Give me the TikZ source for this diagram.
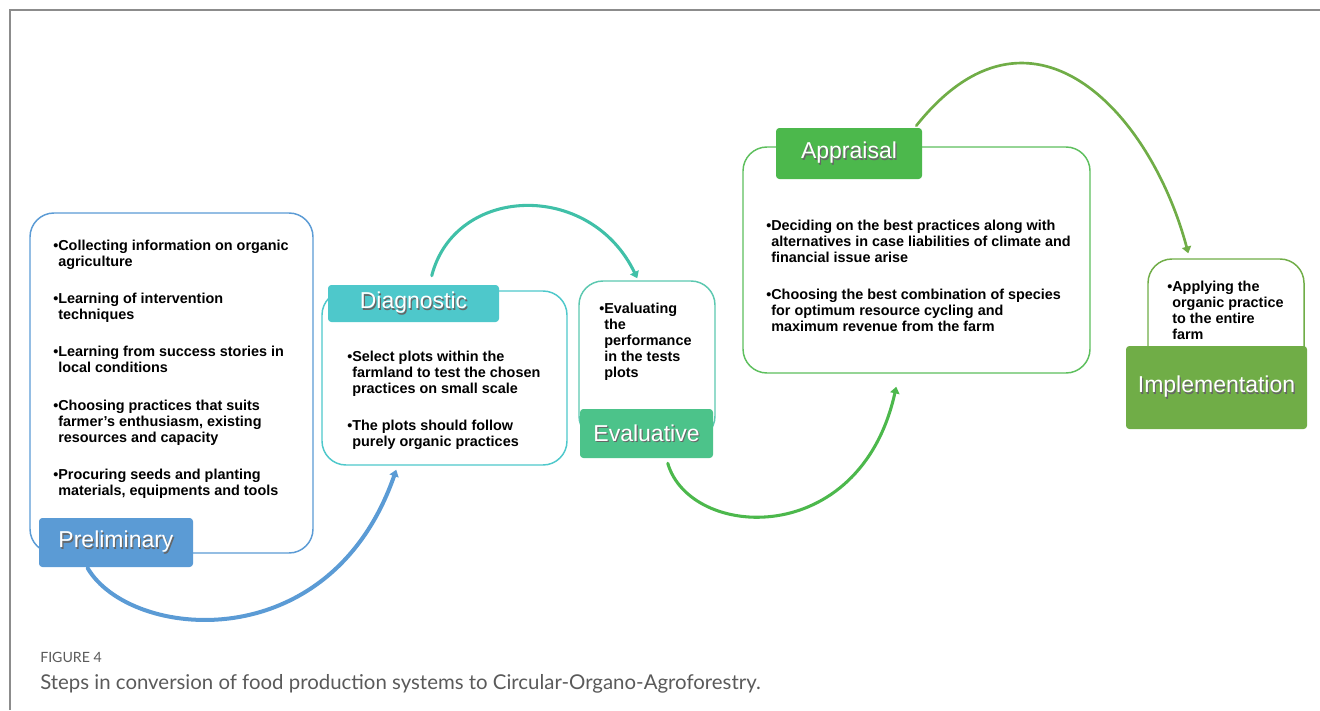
\documentclass[tikz,border=0pt]{standalone}
\usepackage{fontspec}
\setmainfont{Liberation Sans}
\newfontfamily\capfont{Lato}
\usetikzlibrary{arrows.meta,calc}

\definecolor{frameg}{HTML}{8C8C8C}
\definecolor{pblue}{HTML}{5B9BD5}
\definecolor{dteal}{HTML}{4EC8CB}
\definecolor{tealarrow}{HTML}{40C0A8}
\definecolor{eline}{HTML}{5CC8B0}
\definecolor{egreen}{HTML}{4CC38A}
\definecolor{agreen}{HTML}{4CB84C}
\definecolor{aline}{HTML}{5DBF5D}
\definecolor{igreen}{HTML}{70AD47}
\definecolor{capgray}{HTML}{5A5A5A}

% white label text with a soft dark drop shadow
\newcommand\shtext[1]{\makebox[0pt][l]{\hspace{0.9pt}\raisebox{-0.9pt}{\textcolor{black!60}{#1}}}#1}
% indent matching the width of a bullet
\newcommand\ind{\phantom{•}}
% bullet block whose baseline is that of its first line
\newcommand\btext[1]{\begin{tabular}[t]{@{}l@{}}#1\end{tabular}}
% extra space between two bullet points
\newcommand\pgap{16pt}

\begin{document}
\begin{tikzpicture}[x=0.75pt,y=-0.75pt,
  stepbox/.style={draw, line width=1.1pt, rounded corners=18pt, fill=white, inner sep=0},
  steplabel/.style={rounded corners=2.5pt, inner sep=0, text=white,
    font=\fontsize{17.25pt}{20pt}\selectfont},
  bodytext/.style={anchor=base west, inner sep=0,
    font=\bfseries\fontsize{10.8pt}{12pt}\selectfont},
  flow/.style={line cap=round, -{Triangle[length=5pt,width=7pt]}},
  frameline/.style={draw=frameg, line width=1.5pt}
]
\useasboundingbox (0,0) rectangle (1320,710);

% page frame
\coordinate (fbl) at (10,710);
\coordinate (ftl) at (10,10);
\coordinate (ftr) at (1320,10);
\draw[frameline] (fbl) -- (ftl) -- (ftr);

% Preliminary
\node[stepbox, draw=pblue, minimum width=283*0.75pt, minimum height=340*0.75pt] (pbox) at (171.5,383) {};
\node[bodytext] (ptext) at (53,250) {\btext{•Collecting information on organic\\\ind agriculture\\[\pgap]
•Learning of intervention\\\ind techniques\\[\pgap]
•Learning from success stories in\\\ind local conditions\\[\pgap]
•Choosing practices that suits\\\ind farmer’s enthusiasm, existing\\\ind resources and capacity\\[\pgap]
•Procuring seeds and planting\\\ind materials, equipments and tools}};
\node[steplabel, fill=pblue, minimum width=154*0.75pt, minimum height=49*0.75pt] (plab) at (116,542.5) {\shtext{Preliminary}};

% Diagnostic
\node[stepbox, draw=dteal, minimum width=245*0.75pt, minimum height=174*0.75pt] (dbox) at (444.5,378) {};
\node[bodytext] (dtext) at (347,361) {\btext{•Select plots within the\\\ind farmland to test the chosen\\\ind practices on small scale\\[\pgap]
•The plots should follow\\\ind purely organic practices}};
\node[steplabel, fill=dteal, minimum width=171*0.75pt, minimum height=37*0.75pt] (dlab) at (413.5,303.5) {\shtext{Diagnostic}};

% Evaluative
\node[stepbox, draw=eline, minimum width=136*0.75pt, minimum height=159*0.75pt] (ebox) at (647,360.5) {};
\node[bodytext] (etext) at (599,313) {\btext{•Evaluating\\\ind the\\\ind performance\\\ind in the tests\\\ind plots}};
\node[steplabel, fill=egreen, minimum width=133*0.75pt, minimum height=49*0.75pt] (elab) at (646.5,433.5) {\shtext{Evaluative}};

% Appraisal
\node[stepbox, draw=aline, minimum width=347*0.75pt, minimum height=226*0.75pt] (abox) at (916.5,260) {};
\node[bodytext] (atext) at (766,230) {\btext{•Deciding on the best practices along with\\\ind alternatives in case liabilities of climate and\\\ind financial issue arise\\[\pgap]
•Choosing the best combination of species\\\ind for optimum resource cycling and\\\ind maximum revenue from the farm}};
\node[steplabel, fill=agreen, minimum width=146*0.75pt, minimum height=51*0.75pt] (alab) at (849,153.5) {\shtext{Appraisal}};

% Implementation
\node[stepbox, draw=igreen, minimum width=156*0.75pt, minimum height=141*0.75pt] (ibox) at (1226,329.5) {};
\node[bodytext] (itext) at (1167,291) {\btext{•Applying the\\\ind organic practice\\\ind to the entire\\\ind farm}};
\node[steplabel, fill=igreen, minimum width=181*0.75pt, minimum height=83*0.75pt] (ilab) at (1216.5,387.5) {\shtext{Implementation}};

% connectors between the steps
\draw[flow, draw=pblue, line width=3pt]
  ($(plab.south west)+(49,1)$) .. controls (130,640) and (330,660) .. ($(dbox.south west)+(75,4)$);
\draw[flow, draw=tealarrow, line width=2.3pt]
  ($(dlab.north west)+(104,-9)$) .. controls (455,185) and (590,180) .. ($(ebox.north west)+(59,-2)$);
\draw[flow, draw=agreen, line width=2.3pt]
  ($(elab.south west)+(88,5)$) .. controls (690,540) and (860,550) .. ($(abox.south west)+(154,13)$);
\draw[flow, draw=igreen, line width=2pt]
  ($(alab.north east)+(-6,-2)$) .. controls (1030,-17) and (1150,110) .. ($(ibox.north west)+(41,-5)$);

% caption
\node[anchor=base west, inner sep=0, text=capgray, font=\capfont\fontsize{10.6pt}{12pt}\selectfont] (fignum) at (40,662) {FIGURE 4};
\node[anchor=base west, inner sep=0, text=capgray, font=\capfont\fontsize{15.3pt}{17pt}\selectfont] (caption) at (40,689) {Steps in conversion of food production systems to Circular-Organo-Agroforestry.};
\end{tikzpicture}
\end{document}
